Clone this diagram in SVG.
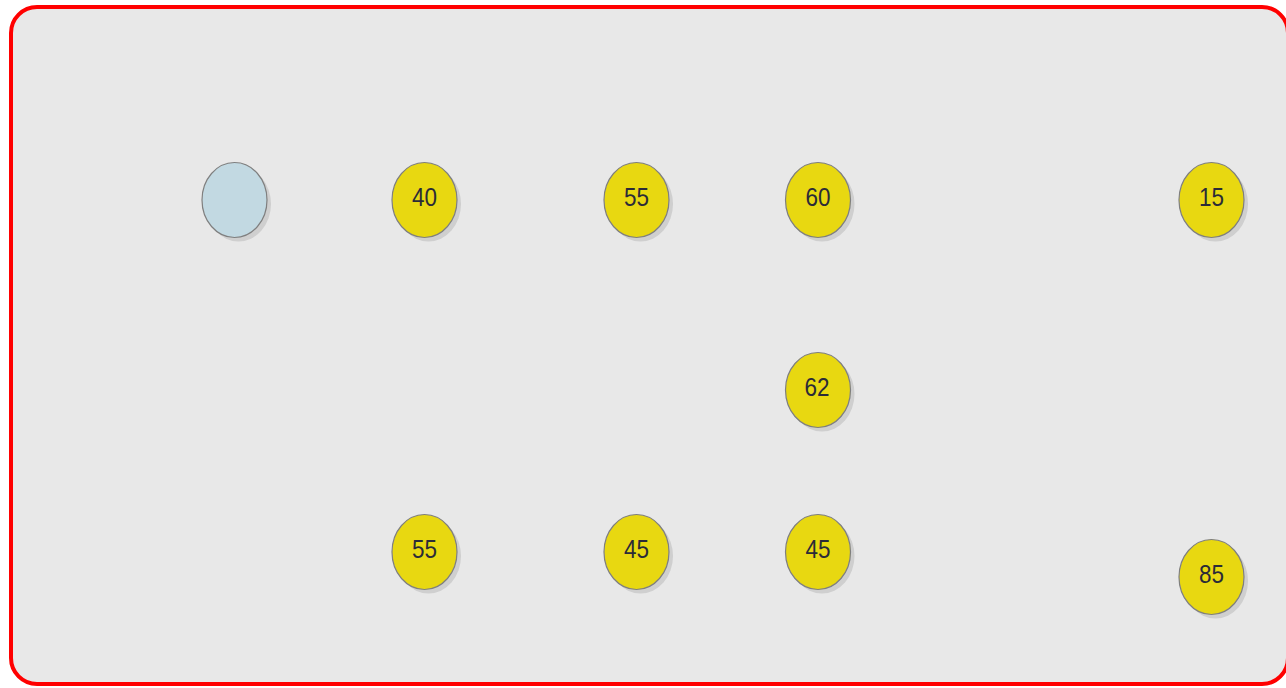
<svg xmlns="http://www.w3.org/2000/svg" width="1286" height="688" viewBox="0 0 1286 688">
<style>
.shadow{fill:#c8c8c8;opacity:0.8}
.node{stroke:#7f7f7f;stroke-width:1.2}
.y{fill:#e8d811}
.b{fill:#c2d9e2}
.t{font-family:"Liberation Sans",sans-serif;font-size:25px;fill:#2b2b38;text-anchor:middle;dominant-baseline:central}
</style>
<rect x="11" y="7" width="1277" height="677" rx="26" ry="26" fill="#e8e8e8" stroke="#ff0000" stroke-width="4"/>
<g id="connectors"></g>
<g id="n0"><ellipse class="shadow" cx="238.5" cy="204" rx="32.5" ry="37.5"/><ellipse class="node b" cx="234.5" cy="200" rx="32.5" ry="37.5"/></g>
<g id="n1"><ellipse class="shadow" cx="428.5" cy="204" rx="32.5" ry="37.5"/><ellipse class="node y" cx="424.5" cy="200" rx="32.5" ry="37.5"/><text class="t" x="424.5" y="197" textLength="25" lengthAdjust="spacingAndGlyphs">40</text></g>
<g id="n2"><ellipse class="shadow" cx="640.5" cy="204" rx="32.5" ry="37.5"/><ellipse class="node y" cx="636.5" cy="200" rx="32.5" ry="37.5"/><text class="t" x="636.5" y="197" textLength="25" lengthAdjust="spacingAndGlyphs">55</text></g>
<g id="n3"><ellipse class="shadow" cx="822" cy="204" rx="32.5" ry="37.5"/><ellipse class="node y" cx="818" cy="200" rx="32.5" ry="37.5"/><text class="t" x="818" y="197" textLength="25" lengthAdjust="spacingAndGlyphs">60</text></g>
<g id="n4"><ellipse class="shadow" cx="1215.5" cy="204" rx="32.5" ry="37.5"/><ellipse class="node y" cx="1211.5" cy="200" rx="32.5" ry="37.5"/><text class="t" x="1211.5" y="197" textLength="25" lengthAdjust="spacingAndGlyphs">15</text></g>
<g id="n5"><ellipse class="shadow" cx="822" cy="394" rx="32.5" ry="37.5"/><ellipse class="node y" cx="818" cy="390" rx="32.5" ry="37.5"/><text class="t" x="817" y="387" textLength="25" lengthAdjust="spacingAndGlyphs">62</text></g>
<g id="n6"><ellipse class="shadow" cx="428.5" cy="556" rx="32.5" ry="37.5"/><ellipse class="node y" cx="424.5" cy="552" rx="32.5" ry="37.5"/><text class="t" x="424.5" y="549" textLength="25" lengthAdjust="spacingAndGlyphs">55</text></g>
<g id="n7"><ellipse class="shadow" cx="640.5" cy="556" rx="32.5" ry="37.5"/><ellipse class="node y" cx="636.5" cy="552" rx="32.5" ry="37.5"/><text class="t" x="636.5" y="549" textLength="25" lengthAdjust="spacingAndGlyphs">45</text></g>
<g id="n8"><ellipse class="shadow" cx="822" cy="556" rx="32.5" ry="37.5"/><ellipse class="node y" cx="818" cy="552" rx="32.5" ry="37.5"/><text class="t" x="818" y="549" textLength="25" lengthAdjust="spacingAndGlyphs">45</text></g>
<g id="n9"><ellipse class="shadow" cx="1215.5" cy="581" rx="32.5" ry="37.5"/><ellipse class="node y" cx="1211.5" cy="577" rx="32.5" ry="37.5"/><text class="t" x="1211.5" y="574" textLength="25" lengthAdjust="spacingAndGlyphs">85</text></g>
</svg>
